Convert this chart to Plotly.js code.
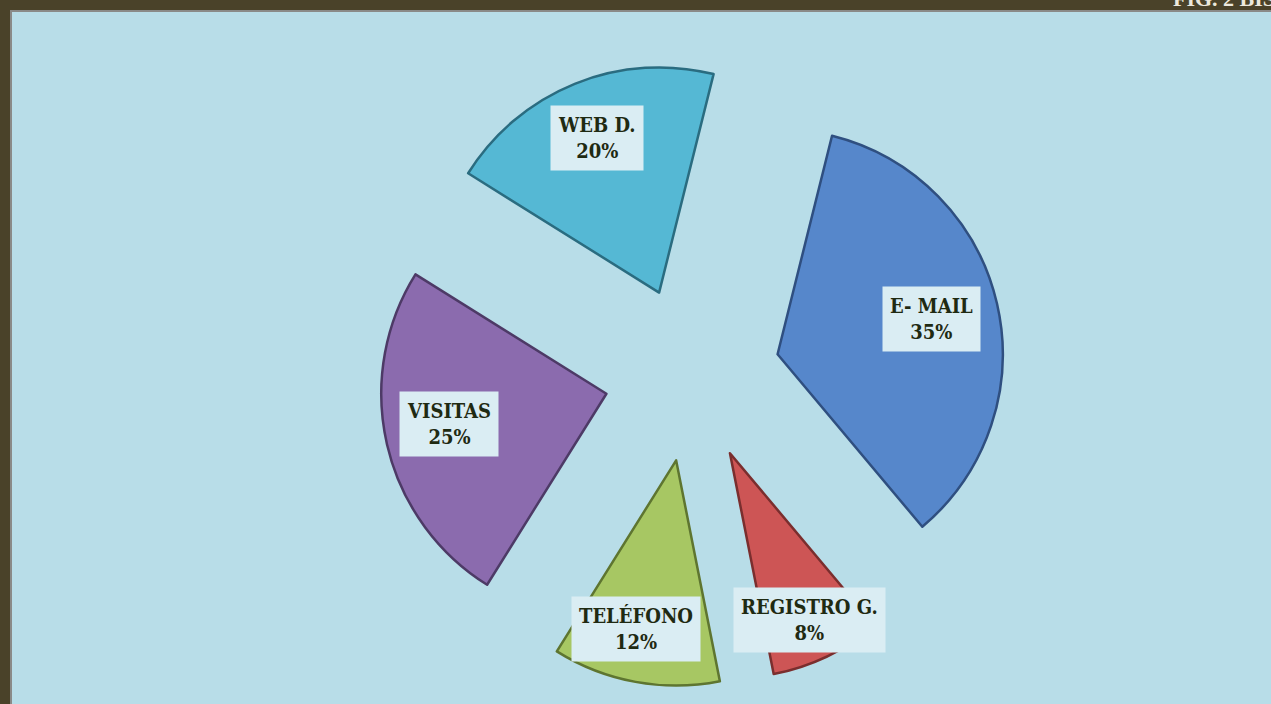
<!DOCTYPE html>
<html>
<head>
<meta charset="utf-8">
<script src="https://cdn.plot.ly/plotly-3.0.1.min.js"></script>
<style>html,body{margin:0;padding:0;background:#4a4229;}#chart{width:1271px;height:704px;}</style>
</head>
<body>
<div id="chart"></div>
<script>
// Data
const categories = ["E- MAIL", "REGISTRO G.", "TELÉFONO", "VISITAS", "WEB D."];
const percents = [35, 8, 12, 25, 20];

// Styles
const sliceColors = ["#5687cb", "#cd5555", "#a7c763", "#8b6bae", "#55b8d4"];
const edgeColors = ["#2f4f80", "#7a2e2e", "#5e7530", "#4d3a66", "#2a6c80"];
const labelDist = [0.70, 0.82, 0.77, 0.71, 0.74];
const labelTurn = [0, 0, 3, 2, 0]; // small angular nudges (degrees)

const W = 1271, H = 704;
const pull = 0.39;
const rotation = 14;
const domX = [379 / W, 1005 / W];
const domY = [1 - 687 / H, 1 - 61 / H];

// geometry as plotly computes it
const boxW = (domX[1] - domX[0]) * W, boxH = (domY[1] - domY[0]) * H;
const r = Math.min(boxW, boxH) / (2 + 2 * pull);
const cx = W * (domX[0] + domX[1]) / 2;
const cy = H * (1 - (domY[0] + domY[1]) / 2);
const total = percents.reduce((a, b) => a + b, 0);

const annotations = [];
let cum = 0;
percents.forEach((v, i) => {
  const midDeg = rotation + 360 * (cum + v / 2) / total;
  cum += v;
  const mid = midDeg * Math.PI / 180;
  const lab = (midDeg + labelTurn[i]) * Math.PI / 180;
  const ax = cx + Math.sin(mid) * r * pull;
  const ay = cy - Math.cos(mid) * r * pull;
  const lx = ax + Math.sin(lab) * r * labelDist[i];
  const ly = ay - Math.cos(lab) * r * labelDist[i];
  annotations.push({
    xref: "paper", yref: "paper", x: lx / W, y: 1 - ly / H,
    xanchor: "center", yanchor: "middle", showarrow: false,
    text: "<b>" + categories[i] + "<br>" + v + "%</b>",
    font: {family: "DejaVu Serif Condensed, DejaVu Serif, serif", size: 20, color: "#1f2a12"},
    bgcolor: "#daedf3", borderpad: 7, align: "center"
  });
});

annotations.push({
  xref: "paper", yref: "paper", x: 1 + 6 / W, y: 1 + 1 / H,
  xanchor: "right", yanchor: "middle", showarrow: false,
  text: "<b>FIG. 2 BIS</b>",
  font: {family: "Liberation Serif, serif", size: 22, color: "#ece8dc"}
});

const trace = {
  type: "pie",
  labels: categories,
  values: percents,
  sort: false,
  direction: "clockwise",
  rotation: rotation,
  pull: pull,
  textinfo: "none",
  hoverinfo: "label+percent",
  marker: {colors: sliceColors, line: {color: edgeColors, width: 2.5}},
  domain: {x: domX, y: domY},
  showlegend: false
};

const layout = {
  width: W, height: H,
  margin: {l: 0, r: 0, t: 0, b: 0},
  paper_bgcolor: "#4a4229",
  showlegend: false,
  shapes: [{
    type: "rect", xref: "paper", yref: "paper", layer: "below",
    x0: 11 / W, x1: 1.01, y0: -0.01, y1: 1 - 11 / H,
    fillcolor: "#b8dde8", line: {color: "#8a8a88", width: 2}
  }],
  annotations: annotations
};

Plotly.newPlot("chart", [trace], layout, {displayModeBar: false, staticPlot: true});
</script>
</body>
</html>
